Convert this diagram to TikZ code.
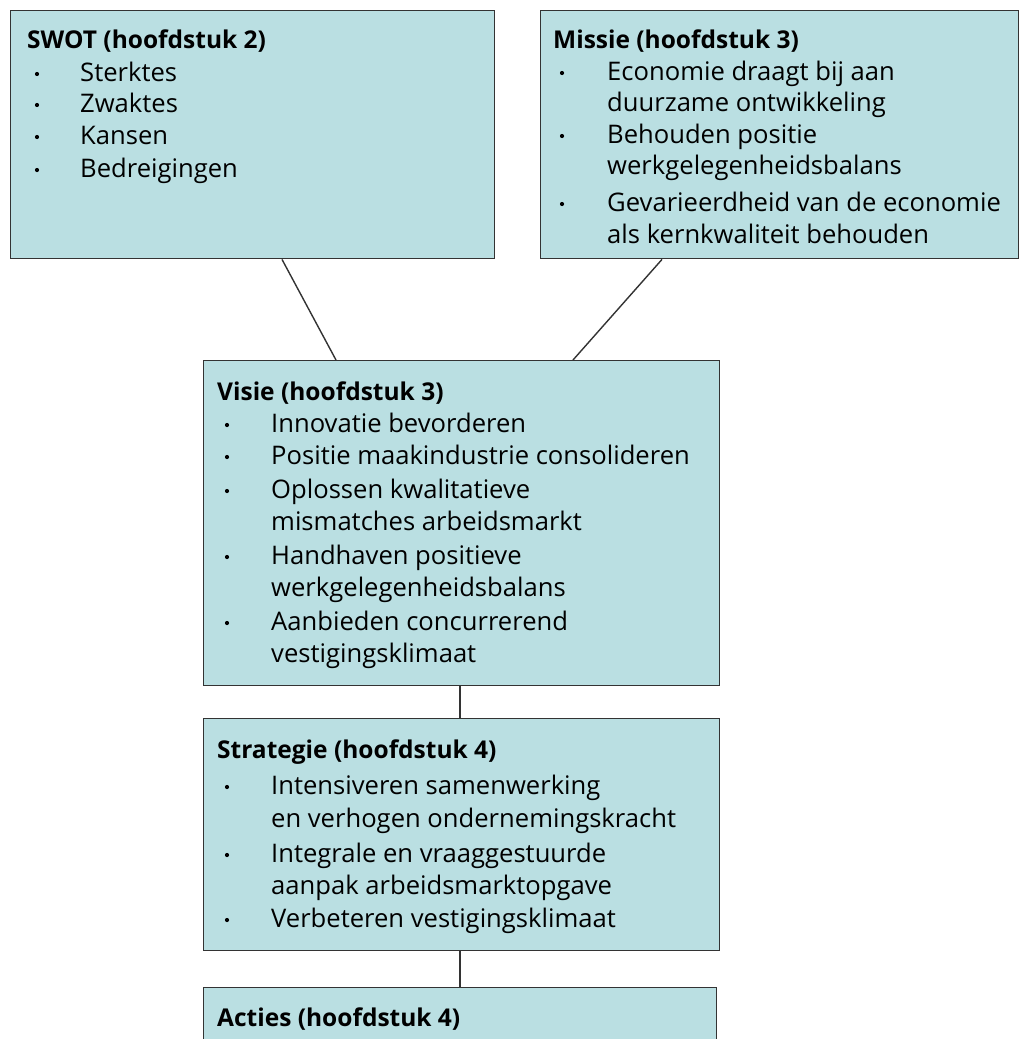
\documentclass[tikz,border=0pt]{standalone}
\usepackage{fontspec}
\setmainfont{Open Sans}
\usetikzlibrary{calc}
\definecolor{boxfill}{HTML}{BADFE2}
\definecolor{boxline}{HTML}{333333}
\tikzset{
  box/.style={draw=boxline, fill=boxfill, line width=1.4pt, rectangle, inner sep=0pt, anchor=north west},
  ttl/.style={anchor=base west, inner sep=0pt, font=\fontsize{24.5}{28}\selectfont\bfseries},
  txt/.style={anchor=base west, inner sep=0pt, font=\fontsize{25.6}{30}\selectfont},
  bul/.style={circle, fill=black, inner sep=0pt, minimum size=4.2pt},
  conn/.style={draw=boxline, line width=1.4pt}
}
\begin{document}
\begin{tikzpicture}[x=1pt,y=-1pt]
\useasboundingbox (0,0) rectangle (1020,1039);
\clip (0,0) rectangle (1020,1039);
% boxes
\node[box, minimum width=484pt, minimum height=248pt] (swot) at (10,10) {};
\node[box, minimum width=478pt, minimum height=248pt] (missie) at (540,10) {};
\node[box, minimum width=516pt, minimum height=325pt] (visie) at (203,360) {};
\node[box, minimum width=516pt, minimum height=232pt] (strat) at (203,718) {};
\node[box, minimum width=513pt, minimum height=80pt] (acties) at (203,987) {};
% connectors
\draw[conn] (swot.south -| 282,0) -- (visie.north -| 336,0);
\draw[conn] (missie.south -| 662,0) -- (visie.north -| 573,0);
\draw[conn] (visie.south -| 460,0) -- (strat.north -| 460,0);
\draw[conn] (strat.south -| 460,0) -- (acties.north -| 460,0);
% SWOT
\node[ttl] (t1) at (27,48) {SWOT (hoofdstuk 2)};
\node[bul] (b1a) at (37,74) {}; \node[txt] (s1a) at (80,81) {Sterktes};
\node[bul] (b1b) at (37,105) {}; \node[txt] (s1b) at (80,112) {Zwaktes};
\node[bul] (b1c) at (37,137) {}; \node[txt] (s1c) at (80,144) {Kansen};
\node[bul] (b1d) at (37,170) {}; \node[txt] (s1d) at (80,177) {Bedreigingen};
% Missie
\node[ttl] (t2) at (553,48) {Missie (hoofdstuk 3)};
\node[bul] (b2a) at (562,73) {}; \node[txt] (m2a) at (607,80) {Economie draagt bij aan};
\node[txt] (m2b) at (607,111) {duurzame ontwikkeling};
\node[bul] (b2c) at (562,136) {}; \node[txt] (m2c) at (607,143) {Behouden positie};
\node[txt] (m2d) at (607,174) {werkgelegenheidsbalans};
\node[bul] (b2e) at (562,204) {}; \node[txt] (m2e) at (607,211) {Gevarieerdheid van de economie};
\node[txt] (m2f) at (607,243) {als kernkwaliteit behouden};
% Visie
\node[ttl] (t3) at (217,400) {Visie (hoofdstuk 3)};
\node[bul] (b3a) at (227,425) {}; \node[txt] (v3a) at (271,432) {Innovatie bevorderen};
\node[bul] (b3b) at (227,457) {}; \node[txt] (v3b) at (271,464) {Positie maakindustrie consolideren};
\node[bul] (b3c) at (227,491) {}; \node[txt] (v3c) at (271,498) {Oplossen kwalitatieve};
\node[txt] (v3d) at (271,530) {mismatches arbeidsmarkt};
\node[bul] (b3e) at (227,557) {}; \node[txt] (v3e) at (271,564) {Handhaven positieve};
\node[txt] (v3f) at (271,596) {werkgelegenheidsbalans};
\node[bul] (b3g) at (227,623) {}; \node[txt] (v3g) at (271,630) {Aanbieden concurrerend};
\node[txt] (v3h) at (271,662) {vestigingsklimaat};
% Strategie
\node[ttl] (t4) at (217,758) {Strategie (hoofdstuk 4)};
\node[bul] (b4a) at (227,787) {}; \node[txt] (s4a) at (271,794) {Intensiveren samenwerking};
\node[txt] (s4b) at (271,827) {en verhogen ondernemingskracht};
\node[bul] (b4c) at (227,855) {}; \node[txt] (s4c) at (271,862) {Integrale en vraaggestuurde};
\node[txt] (s4d) at (271,894) {aanpak arbeidsmarktopgave};
\node[bul] (b4e) at (227,920) {}; \node[txt] (s4e) at (271,927) {Verbeteren vestigingsklimaat};
% Acties
\node[ttl] (t5) at (217,1026) {Acties (hoofdstuk 4)};
\end{tikzpicture}
\end{document}
